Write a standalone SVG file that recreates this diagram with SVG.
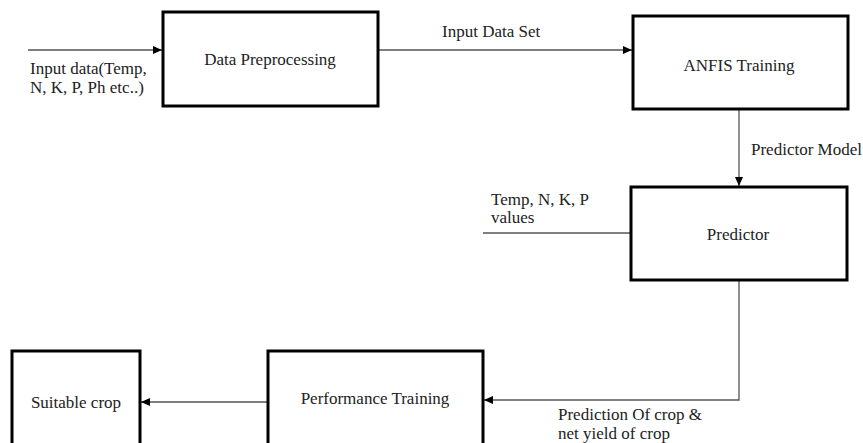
<svg xmlns="http://www.w3.org/2000/svg" width="863" height="443" viewBox="0 0 863 443">
<style>
.box{fill:#fff;stroke:#000;stroke-width:3}
.t{font-family:"Liberation Serif","Times New Roman",serif;font-size:17px;fill:#222}
.c{text-anchor:middle}
.ln{stroke:#555;stroke-width:1.3;fill:none}
</style>
<defs>
<marker id="ah" markerWidth="10" markerHeight="8" refX="9" refY="4" orient="auto" markerUnits="userSpaceOnUse">
<path d="M0,0 L9,4 L0,8 z" fill="#000"/>
</marker>
</defs>
<rect width="863" height="443" fill="#fff"/>
<g id="connectors">
<line class="ln" x1="28" y1="50" x2="162" y2="50" marker-end="url(#ah)"/>
<line class="ln" x1="378" y1="50" x2="632" y2="50" marker-end="url(#ah)"/>
<line class="ln" x1="739" y1="109" x2="739" y2="186" marker-end="url(#ah)"/>
<line class="ln" x1="483" y1="233" x2="631" y2="233"/>
<polyline class="ln" points="739,280 739,400 484,400" marker-end="url(#ah)"/>
<line class="ln" x1="268" y1="402" x2="141" y2="402" marker-end="url(#ah)"/>
<text class="t" x="30" y="74">Input data(Temp,</text>
<text class="t" x="30" y="93">N, K, P, Ph etc..)</text>
<text class="t" x="442" y="37">Input Data Set</text>
<text class="t" x="751" y="155">Predictor Model</text>
<text class="t" x="491" y="205">Temp, N, K, P</text>
<text class="t" x="491" y="223">values</text>
<text class="t" x="558" y="420">Prediction Of crop &amp;</text>
<text class="t" x="558" y="439">net yield of crop</text>
</g>
<g id="data-preprocessing">
<rect class="box" x="163" y="12" width="215" height="94"/>
<text class="t c" x="270" y="65">Data Preprocessing</text>
</g>
<g id="anfis-training">
<rect class="box" x="633" y="16" width="215" height="93"/>
<text class="t c" x="739" y="71">ANFIS Training</text>
</g>
<g id="predictor">
<rect class="box" x="631" y="187" width="216" height="93"/>
<text class="t c" x="738" y="240">Predictor</text>
</g>
<g id="performance-training">
<rect class="box" x="268" y="351" width="215" height="110"/>
<text class="t c" x="375" y="404">Performance Training</text>
</g>
<g id="suitable-crop">
<rect class="box" x="12" y="351" width="128" height="110"/>
<text class="t c" x="76" y="408">Suitable crop</text>
</g>
</svg>
